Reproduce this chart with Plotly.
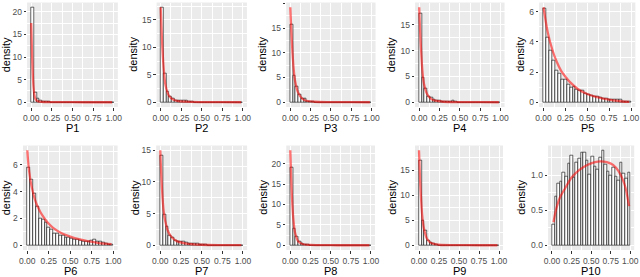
import numpy as np
import plotly.graph_objects as go

W, H = 640, 277

# ---------------- data ----------------
names = ["P1", "P2", "P3", "P4", "P5", "P6", "P7", "P8", "P9", "P10"]
n_bins = 30
bin_edges = np.linspace(0, 1, n_bins + 1)
bin_centers = (bin_edges[:-1] + bin_edges[1:]) / 2

hist_P1 = [21.0, 2.1, 0.8, 0.3, 0.15, 0.1, 0.08, 0.05, 0.05, 0.04, 0.03, 0.03, 0.02, 0.02, 0.02,
           0.02, 0.01, 0.01, 0.01, 0.01, 0.01, 0.01, 0.01, 0.01, 0.01, 0.01, 0.01, 0.01, 0.01, 0.01]
hist_P2 = [17.3, 5.3, 2.0, 1.0, 0.6, 0.4, 0.35, 0.3, 0.3, 0.3, 0.05, 0.05, 0.04, 0.03, 0.03,
           0.02, 0.02, 0.02, 0.02, 0.02, 0.01, 0.01, 0.01, 0.01, 0.01, 0.01, 0.01, 0.01, 0.01, 0.01]
hist_P3 = [15.8, 5.4, 3.1, 1.5, 0.8, 0.7, 0.2, 0.1, 0.08, 0.05, 0.05, 0.04, 0.03, 0.03, 0.02,
           0.02, 0.02, 0.02, 0.01, 0.01, 0.01, 0.01, 0.01, 0.01, 0.01, 0.01, 0.01, 0.01, 0.01, 0.01]
hist_P4 = [17.1, 4.8, 2.7, 1.2, 0.9, 0.5, 0.4, 0.4, 0.1, 0.05, 0.05, 0.05, 0.4, 0.05, 0.03,
           0.02, 0.02, 0.02, 0.01, 0.01, 0.01, 0.01, 0.01, 0.01, 0.01, 0.01, 0.01, 0.01, 0.01, 0.01]
hist_P5 = [6.2, 4.3, 3.4, 2.8, 2.1, 1.9, 1.5, 1.5, 1.2, 0.95, 1.05, 0.85, 0.8, 0.75, 0.6,
           0.5, 0.45, 0.4, 0.35, 0.3, 0.28, 0.25, 0.2, 0.15, 0.18, 0.2, 0.2, 0.05, 0.02, 0.02]
hist_P6 = [5.8, 4.95, 3.9, 2.9, 2.0, 1.9, 1.7, 1.35, 1.2, 0.9, 0.85, 0.75, 0.7, 0.6, 0.55,
           0.5, 0.45, 0.4, 0.35, 0.3, 0.3, 0.3, 0.35, 0.4, 0.3, 0.25, 0.2, 0.12, 0.08, 0.05]
hist_P7 = [14.2, 4.9, 2.9, 1.6, 1.2, 0.8, 0.6, 0.6, 0.6, 0.4, 0.35, 0.3, 0.3, 0.2, 0.1,
           0.08, 0.05, 0.04, 0.03, 0.02, 0.02, 0.02, 0.01, 0.01, 0.01, 0.01, 0.01, 0.01, 0.01, 0.01]
hist_P8 = [19.0, 4.2, 2.2, 0.8, 0.4, 0.3, 0.3, 0.05, 0.02, 0.02, 0.01, 0.01, 0.01, 0.01, 0.01,
           0.01, 0.01, 0.01, 0.01, 0.01, 0.01, 0.01, 0.01, 0.01, 0.01, 0.01, 0.01, 0.01, 0.01, 0.01]
hist_P9 = [17.0, 5.0, 2.9, 0.9, 0.5, 0.3, 0.2, 0.05, 0.03, 0.02, 0.02, 0.01, 0.01, 0.01, 0.01,
           0.01, 0.01, 0.01, 0.01, 0.01, 0.01, 0.01, 0.01, 0.01, 0.01, 0.01, 0.01, 0.01, 0.01, 0.01]
hist_P10 = [0.30, 0.70, 0.89, 0.91, 1.04, 0.98, 1.17, 1.29, 0.97, 1.18, 1.24, 1.33, 1.33, 1.22, 1.02,
            1.27, 1.13, 1.08, 1.25, 1.36, 1.15, 1.05, 1.00, 1.12, 0.98, 0.93, 1.18, 1.03, 0.95, 1.04]

curve_x_P1 = [0.0, 0.01, 0.02, 0.03, 0.05, 0.08, 0.15, 0.3, 0.5, 0.75, 0.98]
curve_y_P1 = [17.5, 11.0, 6.0, 3.0, 0.8, 0.2, 0.05, 0.02, 0.01, 0.0, 0.0]
curve_x_P2 = [0.0, 0.02, 0.04, 0.06, 0.1, 0.15, 0.2, 0.3, 0.5, 0.75, 0.98]
curve_y_P2 = [17.3, 10.0, 5.5, 3.0, 1.2, 0.5, 0.25, 0.1, 0.03, 0.01, 0.0]
curve_x_P3 = [0.0, 0.02, 0.04, 0.06, 0.1, 0.15, 0.2, 0.3, 0.5, 0.75, 0.98]
curve_y_P3 = [19.2, 12.0, 7.0, 4.2, 1.8, 0.7, 0.3, 0.1, 0.03, 0.01, 0.0]
curve_x_P4 = [0.0, 0.02, 0.04, 0.06, 0.1, 0.15, 0.2, 0.3, 0.5, 0.75, 0.98]
curve_y_P4 = [18.4, 11.0, 6.0, 3.5, 1.5, 0.6, 0.3, 0.1, 0.03, 0.01, 0.0]
curve_x_P5 = [0.0, 0.05, 0.1, 0.15, 0.2, 0.25, 0.3, 0.4, 0.5, 0.6, 0.7, 0.8, 0.9, 0.98]
curve_y_P5 = [6.3, 4.6, 3.5, 2.7, 2.1, 1.7, 1.35, 0.85, 0.55, 0.35, 0.22, 0.12, 0.05, 0.02]
curve_x_P6 = [0.0, 0.02, 0.05, 0.1, 0.15, 0.2, 0.25, 0.3, 0.4, 0.5, 0.6, 0.7, 0.8, 0.9, 0.98]
curve_y_P6 = [7.1, 5.6, 4.4, 3.2, 2.5, 2.0, 1.6, 1.3, 0.9, 0.65, 0.45, 0.3, 0.2, 0.12, 0.08]
curve_x_P7 = [0.0, 0.02, 0.04, 0.06, 0.1, 0.15, 0.2, 0.3, 0.4, 0.5, 0.7, 0.98]
curve_y_P7 = [15.0, 9.0, 5.5, 3.8, 2.0, 1.1, 0.65, 0.3, 0.15, 0.08, 0.03, 0.01]
curve_x_P8 = [0.0, 0.02, 0.04, 0.06, 0.1, 0.15, 0.25, 0.5, 0.75, 0.98]
curve_y_P8 = [23.3, 12.0, 6.0, 3.0, 0.9, 0.3, 0.08, 0.01, 0.0, 0.0]
curve_x_P9 = [0.0, 0.02, 0.04, 0.06, 0.1, 0.15, 0.25, 0.5, 0.75, 0.98]
curve_y_P9 = [19.0, 11.0, 6.0, 3.5, 1.3, 0.45, 0.1, 0.02, 0.0, 0.0]
curve_x_P10 = [0.02, 0.05, 0.1, 0.17, 0.25, 0.35, 0.45, 0.55, 0.62, 0.7, 0.78, 0.85, 0.9, 0.94, 0.97, 0.985]
curve_y_P10 = [0.33, 0.50, 0.68, 0.82, 0.97, 1.08, 1.15, 1.19, 1.20, 1.19, 1.15, 1.06, 0.95, 0.82, 0.65, 0.56]

x_tick_vals = [0, 0.25, 0.5, 0.75, 1.0]
x_tick_text = ["0.00", "0.25", "0.50", "0.75", "1.00"]
y_dticks = [5, 5, 5, 5, 2, 2, 5, 5, 5, 0.5]
y_formats = ["d", "d", "d", "d", "d", "d", "d", "d", "d", ".1f"]

hists = [hist_P1, hist_P2, hist_P3, hist_P4, hist_P5, hist_P6, hist_P7, hist_P8, hist_P9, hist_P10]
curves = [(curve_x_P1, curve_y_P1), (curve_x_P2, curve_y_P2), (curve_x_P3, curve_y_P3),
          (curve_x_P4, curve_y_P4), (curve_x_P5, curve_y_P5), (curve_x_P6, curve_y_P6),
          (curve_x_P7, curve_y_P7), (curve_x_P8, curve_y_P8), (curve_x_P9, curve_y_P9),
          (curve_x_P10, curve_y_P10)]

# ---------------- layout (pixel geometry) ----------------
x_anchor_px = [(31.2, 113.7), (160.7, 242.8), (290.3, 371.5), (419.2, 500.5), (543.5, 631.0),
               (27.3, 113.3), (160.3, 243.0), (290.3, 371.0), (419.0, 499.0), (552.0, 630.3)]
rows_px = [(2.5, 107.0), (145.5, 250.0)]
ylab_x_px = [5.5, 133, 262, 390.5, 520, 5.5, 134.5, 263, 392, 521]
XR = (-0.05, 1.05)

fig = go.Figure()
annotations = []
layout_axes = {}
FONT = "Liberation Sans, Arial, sans-serif"

for i in range(10):
    sfx = "" if i == 0 else str(i + 1)
    xa, ya = "x" + sfx, "y" + sfx
    a, b = x_anchor_px[i]
    span = b - a
    left = a + XR[0] * span
    right = a + XR[1] * span
    top, bottom = rows_px[0] if i < 5 else rows_px[1]

    fig.add_trace(go.Bar(
        x=bin_centers, y=hists[i], width=1 / n_bins,
        marker=dict(color="white", line=dict(color="black", width=0.6)),
        xaxis=xa, yaxis=ya, showlegend=False, hoverinfo="skip"))
    cx, cy = curves[i]
    fig.add_trace(go.Scatter(
        x=cx, y=cy, mode="lines", line=dict(color="rgba(255,0,0,0.55)", width=2.3, shape="spline"),
        xaxis=xa, yaxis=ya, showlegend=False, hoverinfo="skip"))

    M = max(max(hists[i]), max(cy))
    layout_axes["xaxis" + sfx] = dict(
        domain=[left / W, right / W], anchor=ya, range=list(XR), automargin=False,
        tickmode="array", tickvals=x_tick_vals, ticktext=x_tick_text,
        showgrid=True, gridcolor="white", gridwidth=1,
        minor=dict(tickmode="linear", dtick=0.125, tick0=0, showgrid=True,
                   gridcolor="white", gridwidth=0.5, ticks=""),
        zeroline=False, ticks="outside", ticklen=2.5, tickwidth=1, tickcolor="#333333",
        tickfont=dict(size=8.5, color="#4D4D4D", family=FONT), showline=False, fixedrange=True)
    layout_axes["yaxis" + sfx] = dict(
        domain=[1 - bottom / H, 1 - top / H], anchor=xa, range=[-0.05 * M, 1.05 * M],
        automargin=False, tickmode="linear", dtick=y_dticks[i], tick0=0, tickformat=y_formats[i],
        showgrid=True, gridcolor="white", gridwidth=1,
        minor=dict(tickmode="linear", dtick=y_dticks[i] / 2, tick0=0, showgrid=True,
                   gridcolor="white", gridwidth=0.5, ticks=""),
        zeroline=False, ticks="outside", ticklen=2.5, tickwidth=1, tickcolor="#333333",
        tickfont=dict(size=8.5, color="#4D4D4D", family=FONT), showline=False, fixedrange=True)

    annotations.append(dict(text=names[i], x=(left + right) / 2 / W, y=1 - (bottom + 21) / H,
                            xref="paper", yref="paper", showarrow=False,
                            xanchor="center", yanchor="middle",
                            font=dict(size=11, color="black", family=FONT)))
    annotations.append(dict(text="density", x=ylab_x_px[i] / W, y=1 - (top + bottom) / 2 / H,
                            xref="paper", yref="paper", showarrow=False, textangle=-90,
                            xanchor="center", yanchor="middle",
                            font=dict(size=11, color="black", family=FONT)))

fig.update_layout(
    template="none",
    width=W, height=H, margin=dict(l=0, r=0, t=0, b=0, autoexpand=False),
    paper_bgcolor="white", plot_bgcolor="#EBEBEB",
    barmode="overlay", bargap=0, annotations=annotations,
    font=dict(family=FONT), **layout_axes)

fig.write_html(
    "out.html",
    config={"displayModeBar": False, "responsive": False},
    post_script="document.body.style.margin='0';document.body.style.padding='0';"
                "document.documentElement.style.overflow='hidden';")
